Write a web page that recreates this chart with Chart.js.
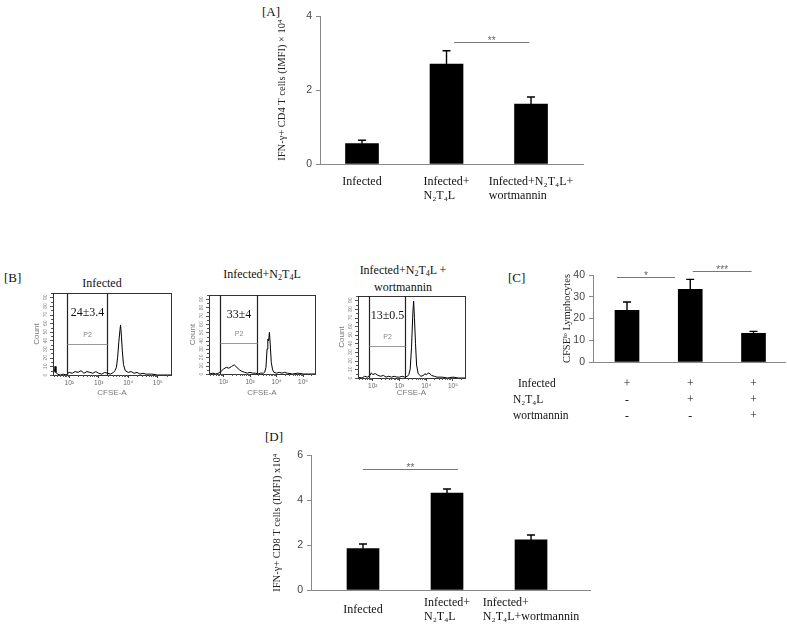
<!DOCTYPE html>
<html>
<head>
<meta charset="utf-8">
<script src="https://cdn.jsdelivr.net/npm/chart.js@4.4.1/dist/chart.umd.min.js"></script>
<style>
body { margin: 0; background: #fff; width: 787px; height: 626px; position: relative; overflow: hidden; font-family: "Liberation Serif", serif; }
canvas { position: absolute; }
.t { position: absolute; font-size: 12px; color: #111; white-space: nowrap; line-height: 14px; }
.c { transform: translateX(-50%); }
sub { font-size: 8px; vertical-align: -2px; line-height: 0; }
</style>
</head>
<body>
<div class="t" style="left:262px;top:5px;font-size:13px">[A]</div>
<div class="t" style="left:4px;top:271px;font-size:13px">[B]</div>
<div class="t" style="left:508px;top:271px;font-size:13px">[C]</div>
<div class="t" style="left:265px;top:430px;font-size:13px">[D]</div>

<div class="t c" style="left:102px;top:276px">Infected</div>
<div class="t c" style="left:262px;top:267px">Infected+N<sub>2</sub>T<sub>4</sub>L</div>
<div class="t c" style="left:403px;top:263px">Infected+N<sub>2</sub>T<sub>4</sub>L +</div>
<div class="t c" style="left:403px;top:280px">wortmannin</div>

<canvas id="cnvA" width="330" height="210" style="left:260px;top:0px"></canvas>
<canvas id="cnvB1" width="150" height="112" style="left:30px;top:288px"></canvas>
<canvas id="cnvB2" width="150" height="112" style="left:186px;top:288px"></canvas>
<canvas id="cnvB3" width="150" height="112" style="left:335px;top:288px"></canvas>
<canvas id="cnvC" width="287" height="175" style="left:500px;top:255px"></canvas>
<canvas id="cnvD" width="340" height="181" style="left:260px;top:445px"></canvas>

<script>
// ---- data ----
// [A] IFN-g+ CD4 T cells
const groupsA = [['Infected'], ['Infected+', 'N₂T₄L'], ['Infected+N₂T₄L+', 'wortmannin']];
const cd4Mean = [0.55, 2.70, 1.62];
const cd4Err = [0.09, 0.36, 0.19];
const ticksA = [0, 2, 4];
const sigA = [{ from: 2.09, to: 2.98, at: 3.29, text: '**' }];

// [B] CFSE histograms (x = log10 CFSE-A, y = count)
const cfseTicks = [2, 3, 4, 5];
const countTicks = [0, 10, 20, 30, 40, 50, 60, 70, 80, 90];
const hx1 = [1.45, 1.5, 1.52, 1.55, 1.6, 1.7, 1.8, 1.9, 1.95, 2.0, 2.1, 2.2, 2.3, 2.4, 2.5, 2.6, 2.7, 2.8, 2.9, 3.0, 3.1, 3.2, 3.3, 3.4, 3.5, 3.55, 3.6, 3.64, 3.68, 3.72, 3.74, 3.77, 3.8, 3.84, 3.9, 4.0, 4.1, 4.2, 4.3, 4.4, 4.5, 4.6, 4.8, 5.0, 5.2, 5.45];
const hy1 = [2, 4, 10, 3, 1, 0, 1, 0, 2, 3, 2, 4, 3, 5, 2, 4, 3, 2, 4, 2, 1, 3, 2, 1, 3, 5, 9, 20, 38, 52, 58, 45, 28, 12, 5, 3, 4, 2, 3, 1, 2, 1, 1, 0, 0, 0];
const hx2 = [1.45, 1.6, 1.7, 1.8, 1.9, 2.0, 2.1, 2.2, 2.3, 2.4, 2.5, 2.6, 2.7, 2.8, 2.9, 3.0, 3.1, 3.2, 3.3, 3.4, 3.5, 3.55, 3.6, 3.64, 3.67, 3.7, 3.73, 3.76, 3.8, 3.85, 3.9, 4.0, 4.1, 4.2, 4.3, 4.4, 4.6, 4.8, 5.0, 5.2, 5.45];
const hy2 = [0, 1, 0, 1, 3, 6, 8, 7, 9, 11, 8, 5, 3, 2, 1, 2, 1, 1, 0, 1, 1, 2, 8, 30, 42, 40, 50, 36, 14, 5, 2, 1, 2, 1, 2, 1, 0, 1, 0, 0, 0];
const hx3 = [1.45, 1.6, 1.7, 1.8, 1.9, 1.95, 2.0, 2.1, 2.2, 2.3, 2.4, 2.5, 2.6, 2.7, 2.8, 2.9, 3.0, 3.1, 3.2, 3.3, 3.35, 3.4, 3.45, 3.5, 3.53, 3.56, 3.6, 3.64, 3.7, 3.8, 3.9, 3.95, 4.0, 4.1, 4.2, 4.3, 4.4, 4.6, 4.8, 5.0, 5.2, 5.45];
const hy3 = [1, 0, 2, 1, 3, 6, 4, 5, 3, 2, 3, 1, 2, 1, 2, 1, 1, 2, 1, 2, 4, 10, 35, 75, 89, 70, 40, 15, 5, 2, 3, 5, 4, 6, 3, 2, 1, 1, 0, 1, 0, 0];
const gate1 = [1.92, 3.28];
const gate2 = [1.87, 3.26];
const gate3 = [1.86, 3.21];
const p2Levels = [36, 37, 37];
const pctLabels = ['24±3.4', '33±4', '13±0.5'];

// [C] CFSE lo lymphocytes
const cfseMean = [23.8, 33.4, 13.2];
const cfseErr = [3.8, 4.6, 0.9];
const ticksC = [0, 10, 20, 30, 40];
const sigC = [{ from: 0.84, to: 1.76, at: 39.1, text: '*' }, { from: 2.04, to: 2.97, at: 41.8, text: '***' }];
const tableRows = ['Infected', 'N₂T₄L', 'wortmannin'];
const tableMarks = [['+', '+', '+'], ['-', '+', '+'], ['-', '-', '+']];

// [D] IFN-g+ CD8 T cells
const groupsD = [['Infected'], ['Infected+', 'N₂T₄L'], ['Infected+', 'N₂T₄L+wortmannin']];
const cd8Mean = [1.84, 4.32, 2.23];
const cd8Err = [0.21, 0.18, 0.22];
const ticksD = [0, 2, 4, 6];
const sigD = [{ from: 1.0, to: 2.13, at: 5.4, text: '**' }];

const SERIF = '"Liberation Serif", "Times New Roman", serif';
const SANS = '"Liberation Sans", Arial, sans-serif';
const sup = { 2: '²', 3: '³', 4: '⁴', 5: '⁵' };

// error bars, significance lines and x labels
const barDecor = (means, errs, groups, sig, labelTop, centred) => ({
    id: 'barDecor',
    afterDatasetsDraw(chart) {
        const { ctx, scales: { x, y }, chartArea } = chart;
        ctx.save();
        ctx.strokeStyle = '#000';
        ctx.lineWidth = 1.4;
        means.forEach((m, i) => {
            const px = x.getPixelForValue(i + 1);
            const y0 = y.getPixelForValue(m);
            const y1 = y.getPixelForValue(m + errs[i]);
            ctx.beginPath();
            ctx.moveTo(px, y0); ctx.lineTo(px, y1);
            ctx.moveTo(px - 4, y1); ctx.lineTo(px + 4, y1);
            ctx.stroke();
        });
        ctx.strokeStyle = '#777';
        ctx.lineWidth = 1;
        ctx.fillStyle = '#666';
        ctx.font = '10px ' + SANS;
        ctx.textAlign = 'center';
        ctx.textBaseline = 'alphabetic';
        sig.forEach(s => {
            const a = x.getPixelForValue(s.from), b = x.getPixelForValue(s.to), h = Math.round(y.getPixelForValue(s.at)) + 0.5;
            ctx.beginPath(); ctx.moveTo(a, h); ctx.lineTo(b, h); ctx.stroke();
            ctx.fillText(s.text, (a + b) / 2, h + 1);
        });
        if (groups) {
            ctx.fillStyle = '#111';
            ctx.font = '12px ' + SERIF;
            ctx.textAlign = 'left';
            ctx.textBaseline = 'middle';
            const lh = 14;
            const maxLines = Math.max(...groups.map(g => g.length));
            groups.forEach((lines, i) => {
                const px = x.getPixelForValue(i + 1);
                const w = Math.max(...lines.map(l => ctx.measureText(l).width));
                let ty = chartArea.bottom + labelTop;
                if (centred) ty += (maxLines - lines.length) * lh / 2;
                lines.forEach((l, k) => ctx.fillText(l, px - w / 2, ty + k * lh));
            });
        }
        ctx.restore();
    }
});

const tableDecor = {
    id: 'tableDecor',
    afterDraw(chart) {
        const { ctx, scales: { x }, chartArea } = chart;
        ctx.save();
        ctx.fillStyle = '#111';
        ctx.font = '11.5px ' + SERIF;
        ctx.textBaseline = 'middle';
        tableRows.forEach((r, i) => {
            const ty = chartArea.bottom + 22 + i * 16;
            ctx.textAlign = 'left';
            ctx.fillText(r, i === 0 ? 18 : 13, ty);
            ctx.textAlign = 'center';
            tableMarks[i].forEach((m, j) => ctx.fillText(m, x.getPixelForValue(j + 1), ty));
        });
        ctx.restore();
    }
};

const barChart = (id, means, errs, yMax, yTicks, yTitle, xMin, xMax, barW, pad, yWidth, xHeight, decor, extra) => {
    const ctx = document.getElementById(id).getContext('2d');
    return new Chart(ctx, {
        type: 'bar',
        data: {
            datasets: [{
                data: means.map((v, i) => ({ x: i + 1, y: v })),
                backgroundColor: '#000',
                borderWidth: 0,
                barThickness: barW
            }]
        },
        options: {
            responsive: false,
            animation: false,
            devicePixelRatio: 1,
            layout: { padding: pad },
            plugins: { legend: { display: false }, tooltip: { enabled: false } },
            scales: {
                x: {
                    type: 'linear',
                    min: xMin,
                    max: xMax,
                    offset: false,
                    ticks: { display: false },
                    grid: { display: true, drawOnChartArea: false, drawTicks: false, offset: false },
                    border: { color: '#888', width: 1 },
                    afterFit: s => { s.height = xHeight; }
                },
                y: {
                    min: 0,
                    max: yMax,
                    afterBuildTicks: s => { s.ticks = yTicks.map(v => ({ value: v })); },
                    ticks: { font: { family: SANS, size: 10.5 }, color: '#444', padding: 4 },
                    grid: { drawOnChartArea: false, tickLength: 4, color: '#888' },
                    border: { color: '#888', width: 1 },
                    title: { display: true, text: yTitle, font: { family: SERIF, size: 10.5 }, color: '#222', padding: 0 },
                    afterFit: s => { s.width = yWidth; }
                }
            }
        },
        plugins: extra ? [decor, extra] : [decor]
    });
};

barChart('cnvA', cd4Mean, cd4Err, 4, ticksA, 'IFN-γ+ CD4 T cells (IMFI) × 10⁴', 0.503, 3.615, 33,
    { left: 16, top: 16, right: 7, bottom: 0 }, 44, 46, barDecor(cd4Mean, cd4Err, groupsA, sigA, 18, false));

barChart('cnvC', cfseMean, cfseErr, 40, ticksC, 'CFSEˡᵒ Lymphocytes', 0.4625, 3.498, 24,
    { left: 61, top: 20, right: 2, bottom: 0 }, 32, 68, barDecor(cfseMean, cfseErr, null, sigC, 0, false), tableDecor);

barChart('cnvD', cd8Mean, cd8Err, 6, ticksD, 'IFN-γ+ CD8 T cells (IMFI) x10⁴', 0.381, 3.702, 32,
    { left: 11, top: 10, right: 10, bottom: 0 }, 40, 36, barDecor(cd8Mean, cd8Err, groupsD, sigD, 13, true));

// gates, frame, minor ticks and rotated count labels
const histDecor = (gate, p2, pct) => ({
    id: 'histDecor',
    afterDraw(chart) {
        const { ctx, scales: { x, y }, chartArea: a } = chart;
        ctx.save();
        ctx.strokeStyle = '#333';
        ctx.lineWidth = 1;
        ctx.strokeRect(a.left + 0.5, a.top + 0.5, a.right - a.left, a.bottom - a.top);
        // minor log ticks
        ctx.strokeStyle = '#555';
        ctx.beginPath();
        for (let d = 1; d <= 5; d++) {
            for (let k = 2; k <= 9; k++) {
                const v = d + Math.log10(k);
                if (v < x.min || v > x.max) continue;
                const px = Math.round(x.getPixelForValue(v)) + 0.5;
                ctx.moveTo(px, a.bottom); ctx.lineTo(px, a.bottom + 2);
            }
        }
        for (let c = 0; c <= 95; c += 5) {
            const py = Math.round(y.getPixelForValue(c)) + 0.5;
            ctx.moveTo(a.left, py); ctx.lineTo(a.left - (c % 10 ? 2 : 3), py);
        }
        ctx.stroke();
        ctx.fillStyle = '#888';
        ctx.font = '5px ' + SANS;
        ctx.textAlign = 'center';
        ctx.textBaseline = 'middle';
        countTicks.forEach(c => {
            ctx.save();
            ctx.translate(a.left - 7, y.getPixelForValue(c));
            ctx.rotate(-Math.PI / 2);
            ctx.fillText(String(c), 0, 0);
            ctx.restore();
        });
        // gates
        const g0 = Math.round(x.getPixelForValue(gate[0])) + 0.5;
        const g1 = Math.round(x.getPixelForValue(gate[1])) + 0.5;
        ctx.strokeStyle = '#222';
        ctx.lineWidth = 1.2;
        ctx.beginPath();
        ctx.moveTo(g0, a.top); ctx.lineTo(g0, a.bottom);
        ctx.moveTo(g1, a.top); ctx.lineTo(g1, a.bottom);
        ctx.stroke();
        const py = Math.round(y.getPixelForValue(p2)) + 0.5;
        ctx.strokeStyle = '#999';
        ctx.lineWidth = 1;
        ctx.beginPath(); ctx.moveTo(g0, py); ctx.lineTo(g1, py); ctx.stroke();
        ctx.fillStyle = '#888';
        ctx.font = '7px ' + SANS;
        ctx.fillText('P2', (g0 + g1) / 2, py - 9);
        ctx.fillStyle = '#111';
        ctx.font = '12px ' + SERIF;
        ctx.fillText(pct, (g0 + g1) / 2, a.top + 20);
        ctx.restore();
    }
});

const histChart = (id, xs, ys, gate, p2, pct, pad, xHeight) => {
    const ctx = document.getElementById(id).getContext('2d');
    return new Chart(ctx, {
        type: 'line',
        data: {
            datasets: [{
                data: xs.map((v, i) => ({ x: v, y: ys[i] })),
                borderColor: '#000',
                borderWidth: 1,
                pointRadius: 0,
                tension: 0,
                fill: false
            }]
        },
        options: {
            responsive: false,
            animation: false,
            devicePixelRatio: 1,
            layout: { padding: pad },
            plugins: { legend: { display: false }, tooltip: { enabled: false } },
            scales: {
                x: {
                    type: 'linear',
                    min: 1.45,
                    max: 5.45,
                    afterBuildTicks: s => { s.ticks = cfseTicks.map(v => ({ value: v })); },
                    ticks: { callback: v => '10' + sup[v], font: { family: SANS, size: 6.5 }, color: '#666', padding: 1, maxRotation: 0 },
                    grid: { drawOnChartArea: false, tickLength: 3, color: '#444' },
                    border: { color: '#333' },
                    title: { display: true, text: 'CFSE-A', font: { family: SANS, size: 8 }, color: '#777', padding: { top: 0, bottom: 2 } },
                    afterFit: s => { s.height = xHeight; }
                },
                y: {
                    min: 0,
                    max: 95,
                    ticks: { display: false },
                    grid: { display: false },
                    border: { color: '#333' },
                    title: { display: true, text: 'Count', font: { family: SANS, size: 8 }, color: '#777', padding: { top: 2, bottom: 0 } },
                    afterFit: s => { s.width = 23; }
                }
            }
        },
        plugins: [histDecor(gate, p2, pct)]
    });
};

histChart('cnvB1', hx1, hy1, gate1, p2Levels[0], pctLabels[0], { left: 0, top: 5, right: 9, bottom: 0 }, 25);
histChart('cnvB2', hx2, hy2, gate2, p2Levels[1], pctLabels[1], { left: 0, top: 7, right: 21, bottom: 0 }, 26);
histChart('cnvB3', hx3, hy3, gate3, p2Levels[2], pctLabels[2], { left: 0, top: 8, right: 20, bottom: 0 }, 22);
</script>
</body>
</html>
